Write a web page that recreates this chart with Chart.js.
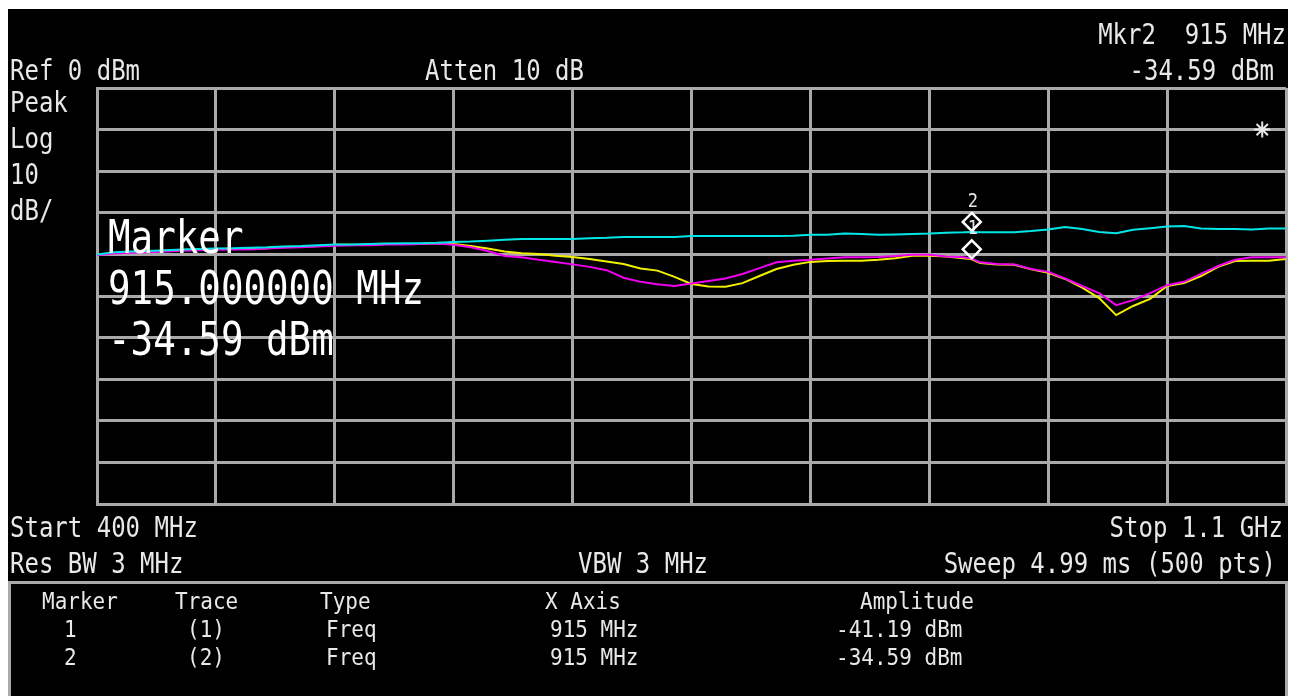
<!DOCTYPE html>
<html>
<head>
<meta charset="utf-8">
<script src="https://cdn.jsdelivr.net/npm/chart.js@4.4.0/dist/chart.umd.min.js"></script>
<style>
  html, body { margin: 0; padding: 0; background: #fff; }
  #wrap { position: relative; width: 1298px; height: 696px; }
</style>
</head>
<body>
<div id="wrap"><canvas id="sa"></canvas></div>
<script>
// sweep frequencies (MHz)
const freqs = [400, 410, 420, 430, 440, 450, 460, 470, 480, 490, 500, 510, 520, 530, 540, 550, 560, 570, 580, 590, 600, 610,
  620, 630, 640, 650, 660, 670, 680, 690, 700, 710, 720, 730, 740, 750, 760, 770, 780, 790, 800, 810, 820, 830, 840, 850,
  860, 870, 880, 890, 900, 910, 915, 920, 930, 940, 950, 960, 970, 980, 990, 1000, 1010, 1020, 1030, 1040, 1050, 1060,
  1070, 1080, 1090, 1100];

// trace 1 (yellow), dBm
const trace1 = [-40.1, -39.7, -39.4, -39.4, -39.2, -38.9, -38.9, -38.7, -38.7, -38.7, -38.5, -38.2, -38.2, -38.0, -37.7, -37.7, -37.7, -37.5, -37.5, -37.5, -37.3, -37.5,
  -38.0, -38.6, -39.3, -39.7, -39.9, -40.3, -40.6, -41.1, -41.7, -42.3, -43.4, -43.9, -45.4, -47.1, -47.7, -47.8, -46.9, -45.2, -43.5, -42.5,
  -41.8, -41.6, -41.5, -41.5, -41.3, -40.9, -40.3, -40.3, -40.5, -40.9, -41.19, -42.1, -42.4, -42.5, -43.6, -44.4, -45.9, -48.0, -50.5, -54.6,
  -52.4, -50.7, -47.6, -46.9, -45.2, -43.0, -41.6, -41.5, -41.5, -41.1];

// trace 2 (cyan), dBm
const trace2 = [-40.0, -39.5, -39.3, -39.2, -39.0, -38.8, -38.7, -38.6, -38.5, -38.4, -38.3, -38.1, -38.0, -37.8, -37.6, -37.6, -37.5, -37.4, -37.3, -37.3, -37.2, -37.0,
  -36.9, -36.7, -36.5, -36.3, -36.3, -36.3, -36.3, -36.1, -36.0, -35.8, -35.8, -35.8, -35.8, -35.6, -35.6, -35.6, -35.6, -35.6, -35.6, -35.5,
  -35.3, -35.3, -35.0, -35.1, -35.3, -35.2, -35.1, -35.0, -34.8, -34.7, -34.59, -34.7, -34.7, -34.7, -34.4, -34.0, -33.4, -33.9, -34.6, -34.9,
  -34.1, -33.7, -33.3, -33.2, -33.8, -33.9, -33.9, -34.0, -33.8, -33.8];

// trace 3 (magenta), dBm
const trace3 = [-40.2, -39.8, -39.6, -39.5, -39.3, -39.1, -39.0, -38.9, -38.8, -38.8, -38.6, -38.4, -38.3, -38.1, -37.9, -37.8, -37.8, -37.6, -37.6, -37.5, -37.4, -37.7,
  -38.3, -39.2, -40.4, -40.7, -41.3, -41.8, -42.4, -43.0, -43.8, -45.6, -46.6, -47.2, -47.6, -47.0, -46.4, -45.8, -44.7, -43.3, -41.9, -41.5,
  -41.3, -41.0, -40.7, -40.7, -40.6, -40.4, -40.1, -40.1, -40.5, -40.7, -41.0, -41.9, -42.3, -42.4, -43.5, -44.2, -45.8, -47.6, -49.3, -52.2,
  -51.0, -49.3, -47.4, -46.6, -44.7, -42.8, -41.3, -40.7, -40.7, -40.7];

// markers
const markerFreqs = [915, 915];
const markerAmps = [-41.19, -34.59];
const markerNames = ['1', '2'];
const starPoint = [{ x: 1086, y: -10 }];

// annotation texts
const headerTexts = ['Ref 0 dBm', 'Atten 10 dB', 'Mkr2  915 MHz', '-34.59 dBm'];
const scaleTexts = ['Peak', 'Log', '10', 'dB/'];
const footerTexts = ['Start 400 MHz', 'Stop 1.1 GHz', 'Res BW 3 MHz', 'VBW 3 MHz', 'Sweep 4.99 ms (500 pts)'];
const bigMarkerTexts = ['Marker', '915.000000 MHz', '-34.59 dBm'];
const tableHead = ['Marker', 'Trace', 'Type', 'X Axis', 'Amplitude'];
const tableRows = [
  ['1', '(1)', 'Freq', '915 MHz', '-41.19 dBm'],
  ['2', '(2)', 'Freq', '915 MHz', '-34.59 dBm']
];

const GRID = '#a9a9a9';
const FONT = '"DejaVu Sans Mono", "Liberation Mono", monospace';

function pts(vals) {
  return freqs.map((f, i) => ({ x: f, y: vals[i] }));
}

function txt(ctx, s, x, y, px, align, sy, color, weight) {
  ctx.save();
  ctx.font = (weight || 'normal') + ' ' + px + 'px ' + FONT;
  ctx.textAlign = align;
  ctx.textBaseline = 'alphabetic';
  ctx.fillStyle = color;
  ctx.translate(x, y);
  ctx.scale(1, sy);
  ctx.fillText(s, 0, 0);
  ctx.restore();
}

const screenPlugin = {
  id: 'screen',
  beforeDraw(chart) {
    const ctx = chart.ctx;
    ctx.save();
    ctx.fillStyle = '#ffffff';
    ctx.fillRect(0, 0, chart.width, chart.height);
    ctx.fillStyle = '#000000';
    ctx.fillRect(8, 9, 1280, 687);
    ctx.restore();
  },
  afterDraw(chart) {
    const ctx = chart.ctx;
    const xs = chart.scales.x, ys = chart.scales.y;

    // marker diamonds, drawn just above the trace point
    ctx.save();
    ctx.strokeStyle = '#ffffff';
    ctx.lineWidth = 2.5;
    markerFreqs.forEach((f, i) => {
      const px = xs.getPixelForValue(f);
      const py = ys.getPixelForValue(markerAmps[i]);
      const cy = py - 10, r = 9;
      ctx.beginPath();
      ctx.moveTo(px, cy - r);
      ctx.lineTo(px + r, cy);
      ctx.lineTo(px, cy + r);
      ctx.lineTo(px - r, cy);
      ctx.closePath();
      ctx.stroke();
      txt(ctx, markerNames[i], px + 1, py - 25, 17, 'center', 1.15, '#e6e6e6');
    });
    ctx.restore();

    const c = '#e8e8e8';
    // header
    txt(ctx, headerTexts[0], 10, 80, 24, 'left', 1.15, c);
    txt(ctx, headerTexts[1], 425, 80, 24, 'left', 1.15, c);
    txt(ctx, headerTexts[2], 1286, 44, 24, 'right', 1.15, c);
    txt(ctx, headerTexts[3], 1274, 80, 24, 'right', 1.15, c);
    // scale info
    scaleTexts.forEach((s, i) => txt(ctx, s, 10, 112 + i * 36, 24, 'left', 1.15, c));
    // footer
    txt(ctx, footerTexts[0], 10, 537, 24, 'left', 1.15, c);
    txt(ctx, footerTexts[1], 1283, 537, 24, 'right', 1.15, c);
    txt(ctx, footerTexts[2], 10, 573, 24, 'left', 1.15, c);
    txt(ctx, footerTexts[3], 578, 573, 24, 'left', 1.15, c);
    txt(ctx, footerTexts[4], 1276, 573, 24, 'right', 1.15, c);

    // big marker readout
    bigMarkerTexts.forEach((s, i) => txt(ctx, s, 108, 253 + i * 51, 37.5, 'left', 1.25, '#ffffff'));

    // marker table box
    ctx.save();
    ctx.strokeStyle = GRID;
    ctx.lineWidth = 3;
    ctx.strokeRect(9.5, 582.5, 1277, 200);
    ctx.restore();
    const colX = [42, 175, 320, 545, 860];
    const rowX = [64, 187, 326, 550, 836];
    tableHead.forEach((s, i) => txt(ctx, s, colX[i], 609, 21, 'left', 1.1, c));
    tableRows.forEach((row, r) => {
      row.forEach((s, i) => txt(ctx, s, rowX[i], 637 + r * 28, 21, 'left', 1.1, c));
    });
  }
};

const lineStyle = { borderWidth: 2, pointRadius: 0, tension: 0, fill: false };

new Chart(document.getElementById('sa'), {
  type: 'line',
  data: {
    datasets: [
      Object.assign({ label: 'Trace 2', data: pts(trace2), borderColor: '#00e6e6', order: 1 }, lineStyle),
      Object.assign({ label: 'Trace 3', data: pts(trace3), borderColor: '#f000f0', order: 2 }, lineStyle),
      Object.assign({ label: 'Trace 1', data: pts(trace1), borderColor: '#f0f000', order: 3 }, lineStyle),
      {
        label: 'star', type: 'scatter', data: starPoint, showLine: false,
        pointStyle: 'star', pointRadius: 8, borderColor: '#e6e6e6', borderWidth: 2, order: 0
      }
    ]
  },
  options: {
    responsive: true,
    maintainAspectRatio: false,
    animation: false,
    devicePixelRatio: 1,
    layout: { padding: { left: 97, top: 88, right: 12, bottom: 192 } },
    plugins: { legend: { display: false }, tooltip: { enabled: false } },
    scales: {
      x: {
        type: 'linear', min: 400, max: 1100,
        ticks: { display: false, stepSize: 70 },
        grid: { color: GRID, lineWidth: 3, drawTicks: false },
        border: { color: GRID, width: 3 }
      },
      y: {
        type: 'linear', min: -100, max: 0,
        ticks: { display: false, stepSize: 10 },
        grid: { color: GRID, lineWidth: 3, drawTicks: false },
        border: { color: GRID, width: 3 }
      }
    }
  },
  plugins: [screenPlugin]
});
</script>
</body>
</html>
